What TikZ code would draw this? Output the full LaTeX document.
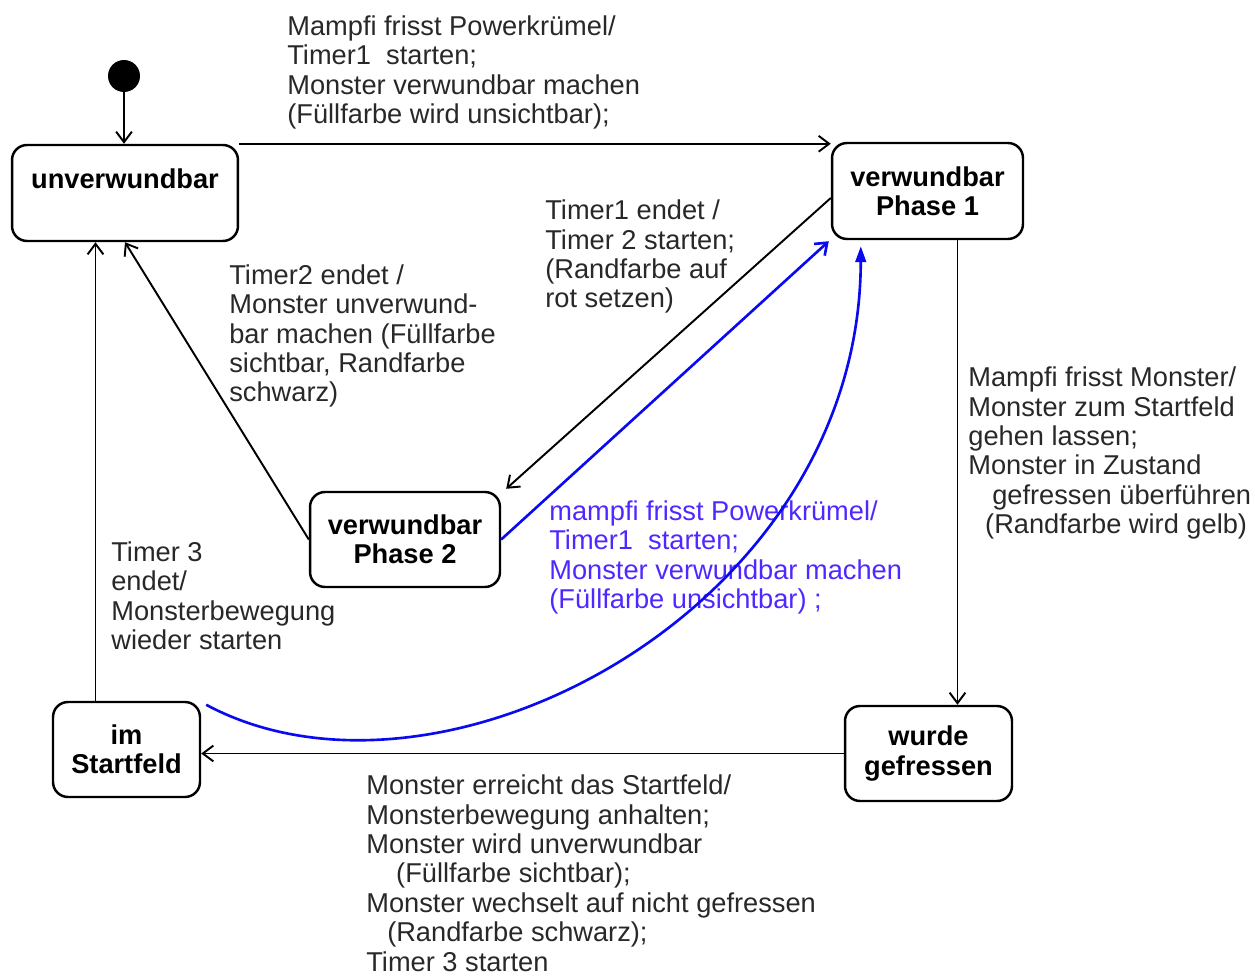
\documentclass[tikz,border=0pt]{standalone}
\usepackage{fontspec}
\setmainfont{Liberation Sans}
\usetikzlibrary{arrows.meta,calc}
\definecolor{txt}{RGB}{40,40,40}
\definecolor{btxt}{RGB}{80,40,255}
\definecolor{bline}{RGB}{10,10,240}
\begin{document}
\begin{tikzpicture}[x=0.02cm,y=-0.02cm,
  state/.style={draw,line width=1.4pt,rounded corners=0.3cm,inner sep=0,
    font=\bfseries\fontsize{15.5}{16.7}\selectfont,align=center,text=black},
  lbl/.style={anchor=base west,inner sep=0,align=left,
    font=\fontsize{15.5}{16.7}\selectfont,text=txt},
  conn/.style={line width=1.1pt,-{Straight Barb[length=6pt,width=9pt]}},
  bconn/.style={line width=1.5pt,draw=bline,-{Straight Barb[length=6pt,width=9pt]}},
  bconnf/.style={line width=1.5pt,draw=bline,-{Triangle[length=9pt,width=6pt,fill=bline]}},
]
\useasboundingbox (0,0) rectangle (1255,976);

% states
\node[circle,fill=black,minimum size=0.64cm,inner sep=0] (init) at (124,76) {};
\node[state,minimum width=4.52cm,minimum height=1.92cm] (unv) at (125,193) {unverwundbar\\\mbox{}};
\node[state,minimum width=3.82cm,minimum height=1.92cm] (P1) at (927.5,191) {verwundbar\\Phase 1};
\node[state,minimum width=3.8cm,minimum height=1.9cm] (P2) at (405,539.5) {verwundbar\\Phase 2};
\node[state,minimum width=2.94cm,minimum height=1.9cm] (sf) at (126.5,749.5) {im\\Startfeld};
\node[state,minimum width=3.34cm,minimum height=1.9cm] (wg) at (928.5,753.5) {wurde\\gefressen};

% labels (anchored at the baseline of their last line)
\node[lbl] (l1) at (287,123.5) {Mampfi frisst Powerkrümel/\\Timer1\ \ starten;\\Monster verwundbar machen\\(Füllfarbe wird unsichtbar);};
\node[lbl] (l2) at (545,308) {Timer1 endet /\\Timer 2 starten;\\(Randfarbe auf\\rot setzen)};
\node[lbl] (l3) at (229,402) {Timer2 endet /\\Monster unverwund-\\bar machen (Füllfarbe\\sichtbar, Randfarbe\\schwarz)};
\node[lbl] (l4) at (968,533.5) {Mampfi frisst Monster/\\Monster zum Startfeld\\gehen lassen;\\Monster in Zustand\\\hspace*{13.6pt}gefressen überführen\\\hspace*{9.6pt}(Randfarbe wird gelb)};
\node[lbl,text=btxt] (l5) at (549,608.5) {mampfi frisst Powerkrümel/\\Timer1\ \ starten;\\Monster verwundbar machen\\(Füllfarbe unsichtbar) ;};
\node[lbl] (l6) at (111,649.5) {Timer 3\\endet/\\Monsterbewegung\\wieder starten};
\node[lbl] (l7) at (366,971) {Monster erreicht das Startfeld/\\Monsterbewegung anhalten;\\Monster wird unverwundbar\\\hspace*{17pt}(Füllfarbe sichtbar);\\Monster wechselt auf nicht gefressen\\\hspace*{11.9pt}(Randfarbe schwarz);\\Timer 3 starten};

% helper coordinates
\coordinate (sfup) at ($(sf.north)+(-31,0)$);
\coordinate (p1down) at ($(P1.south)+(30,0)$);

% connectors
\draw[conn] (init.south) -- (init.south |- unv.north);
\draw[conn] (unv.north east) -- (unv.north east -| P1.west);
\draw[conn] ($(P1.west)+(0,7)$) -- ($(P2.north east)+(5,-2)$);
\draw[bconn] (P2.east) -- ($(P1.south west)+(-2,1)$);
\draw[bconnf] ($(sf.north east)+(5,4)$) .. controls (440,830) and (860,610) .. ($(P1.south west)+(30,6)$);
\draw[conn] (P2.west) -- (unv.south);
\draw[conn] (sfup) -- (sfup |- unv.south);
\draw[conn] (p1down) -- (p1down |- wg.north);
\draw[conn] (wg.west) -- (wg.west -| sf.east);
\end{tikzpicture}
\end{document}
